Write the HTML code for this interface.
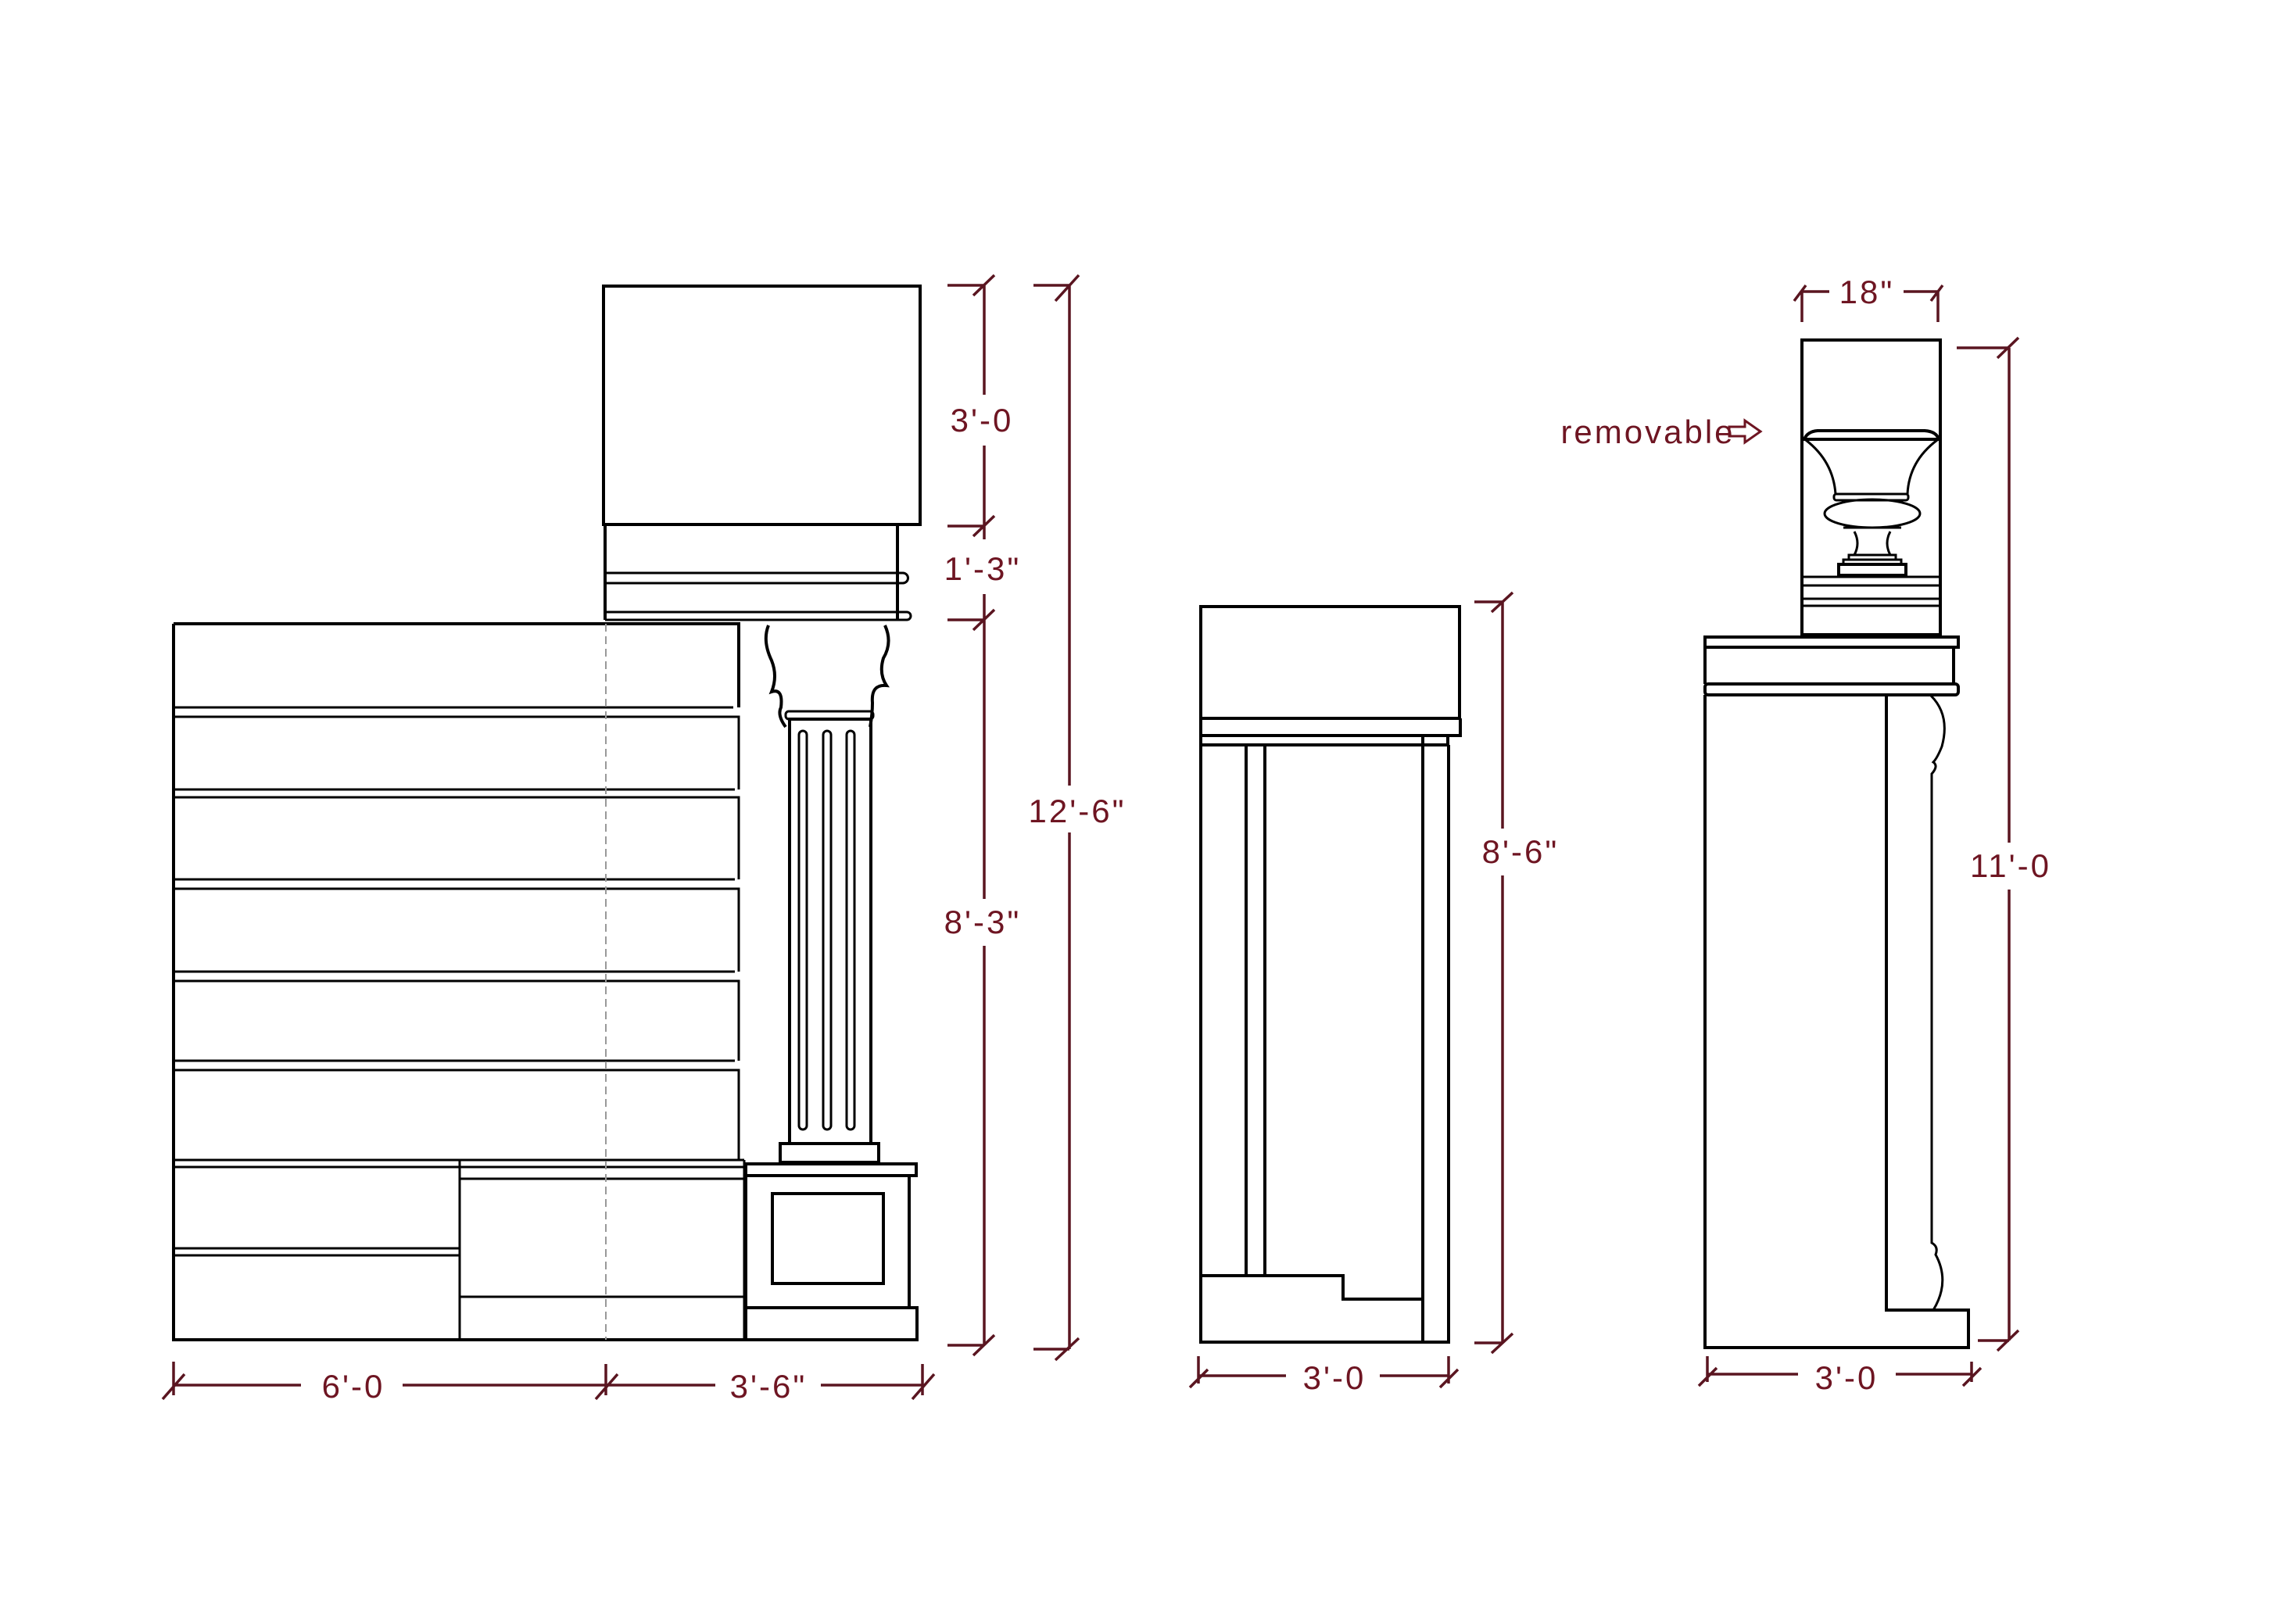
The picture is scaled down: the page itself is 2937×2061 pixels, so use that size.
<!DOCTYPE html>
<html><head><meta charset="utf-8"><style>
html,body{margin:0;padding:0;background:#fff;}
svg{display:block;}
.k{fill:none;stroke:#000;stroke-width:4;}
.t{fill:none;stroke:#000;stroke-width:3;}
.d{fill:none;stroke:#5a1520;stroke-width:3.5;}
.l{fill:#6e1522;font-family:"Liberation Sans",sans-serif;font-size:42px;letter-spacing:3px;}
</style></head><body>
<svg width="2937" height="2061" viewBox="0 0 2937 2061" xmlns="http://www.w3.org/2000/svg">
<rect width="2937" height="2061" fill="#fff"/>

<rect class="k" x="772" y="366" width="405" height="305"/>
<path class="k" d="M774 671 V793 M1148 671 V793"/>
<path class="t" d="M774 733 H1155 a6 6 0 0 1 0 13 H774 M774 783 H1160 a5 5 0 0 1 0 10 H774"/>
<path class="k" d="M222 798 H945 V905 M222 798 V1714 H1175"/>
<path class="t" d="M222 905 H938 M222 917 H945 V1010 M222 1010 H940 M222 1020 H945 V1125 M222 1125 H940 M222 1137 H945 V1243 M222 1243 H940 M222 1255 H945 V1357 M222 1357 H940 M222 1369 H945 V1484"/>
<path class="t" d="M222 1484 H952 M222 1493 H588 M588 1493 H952 M588 1508 H952 M588 1484 V1714 M588 1659 H952 M952 1484 V1714 M222 1597 H588 M222 1606 H588"/>
<path d="M775 798 V1714" stroke="#999" stroke-width="2" stroke-dasharray="10 6" fill="none"/>
<path class="k" d="M983 800 q-8 20 4 45 q8 20 0 40 q15 -5 12 20 q-5 10 6 25 M1132 800 q10 22 -2 42 q-6 20 4 35 q-20 -2 -18 22 q0 15 -3 31"/>
<rect class="t" x="1005" y="910" width="112" height="10" rx="4"/>
<rect class="k" x="1010" y="920" width="104" height="543"/>
<rect class="t" x="1022" y="935" width="10" height="510" rx="5"/>
<rect class="t" x="1053" y="935" width="10" height="510" rx="5"/>
<rect class="t" x="1083" y="935" width="10" height="510" rx="5"/>
<rect class="k" x="998" y="1463" width="126" height="24"/>
<rect class="k" x="954" y="1489" width="218" height="15"/>
<rect class="k" x="954" y="1504" width="209" height="169"/>
<rect class="k" x="988" y="1527" width="142" height="115"/>
<rect class="k" x="954" y="1673" width="219" height="41"/>
<path class="d" d="M1259 365 V1721 M1212 365 H1259 M1245 378 L1272 352 M1212 673 H1259 M1245 686 L1272 660 M1212 793 H1259 M1245 806 L1272 780 M1212 1721 H1259 M1245 1734 L1272 1708"/>
<path d="M1225 690 H1295 V760 H1225 Z M1225 1150 H1295 V1210 H1225 Z M1225 505 H1295 V570 H1225 Z" fill="#fff"/>
<path class="d" d="M1368 365 V1726 M1322 365 H1368 M1350 385 L1380 352 M1322 1726 H1368 M1350 1740 L1380 1712"/>
<rect x="1315" y="1005" width="110" height="60" fill="#fff"/>
<text class="l" x="1256" y="552" text-anchor="middle">3'-0</text>
<text class="l" x="1257" y="742" text-anchor="middle" font-size="38">1'-3"</text>
<text class="l" x="1257" y="1194" text-anchor="middle">8'-3"</text>
<text class="l" x="1378" y="1052" text-anchor="middle">12'-6"</text>
<path class="d" d="M222 1772 H385 M515 1772 H775 M775 1772 H915 M1050 1772 H1180 M222 1742 V1785 M208 1790 L236 1758 M775 1745 V1785 M762 1790 L790 1758 M1180 1745 V1785 M1167 1790 L1195 1758"/>
<text class="l" x="452" y="1788" text-anchor="middle">6'-0</text>
<text class="l" x="983" y="1788" text-anchor="middle">3'-6"</text>

<rect class="k" x="1536" y="776" width="331" height="143"/>
<path class="k" d="M1536 919 V941 H1868 V919 M1536 941 V953 H1852 V941 M1536 953 V1717 H1853 V953"/>
<path class="k" d="M1594 955 V1632 M1618 955 V1632 M1820 941 V1717"/>
<path class="k" d="M1536 1632 H1718 V1662 H1820"/>
<path class="d" d="M1922 770 V1718 M1886 770 H1922 M1908 783 L1935 758 M1886 1718 H1922 M1908 1731 L1935 1706"/>
<rect x="1890" y="1060" width="110" height="60" fill="#fff"/>
<text class="l" x="1945" y="1104" text-anchor="middle">8'-6"</text>
<path class="d" d="M1533 1760 H1645 M1765 1760 H1853 M1533 1735 V1770 M1522 1775 L1545 1752 M1853 1735 V1770 M1842 1775 L1865 1752"/>
<text class="l" x="1707" y="1777" text-anchor="middle">3'-0</text>

<rect class="k" x="2305" y="435" width="177" height="377"/>
<path class="t" d="M2305 738 H2482 M2305 749 H2482 M2305 766 H2482 M2305 775 H2482"/>
<path class="k" d="M2308 562 Q2312 552 2325 551 H2462 Q2477 552 2480 562 Z"/>
<path class="t" d="M2310 563 Q2345 590 2348 632 M2478 563 Q2442 590 2440 632"/>
<rect class="t" x="2346" y="632" width="95" height="8" rx="3"/>
<ellipse class="t" cx="2395" cy="657" rx="61" ry="18"/>
<path class="t" d="M2358 675 H2432 M2372 680 Q2380 695 2372 710 M2418 680 Q2410 695 2418 710"/>
<rect class="t" x="2365" y="710" width="60" height="6"/>
<rect class="t" x="2358" y="716" width="74" height="6"/>
<rect class="k" x="2352" y="722" width="86" height="14"/>
<path class="d" d="M2305 412 V373 H2340 M2435 373 H2479 V412 M2295 385 L2310 365 M2470 385 L2485 365"/>
<text class="l" x="2388" y="388" text-anchor="middle">18"</text>
<text class="l" x="2108" y="567" text-anchor="middle">removable</text>
<path d="M2212 546 H2232 V538 L2252 552 L2232 566 V558 H2212 Z" fill="none" stroke="#6e1522" stroke-width="3"/>
<rect class="k" x="2181" y="815" width="324" height="13"/>
<path class="k" d="M2181 828 V875 M2499 828 V875"/>
<rect class="k" x="2181" y="875" width="324" height="14" rx="4"/>
<path class="k" d="M2181 889 V1724 H2518 V1676 H2413 V889"/>
<path class="t" d="M2470 890 Q2495 915 2484 955 Q2478 970 2473 975 Q2480 980 2471 990 V1590 Q2480 1595 2476 1605 Q2495 1640 2473 1676"/>
<path class="d" d="M2570 445 V1715 M2503 445 H2570 M2555 458 L2582 432 M2530 1715 H2570 M2555 1728 L2582 1702"/>
<rect x="2510" y="1078" width="120" height="60" fill="#fff"/>
<text class="l" x="2572" y="1122" text-anchor="middle">11'-0</text>
<path class="d" d="M2184 1758 H2300 M2425 1758 H2522 M2184 1735 V1768 M2173 1773 L2196 1750 M2522 1742 V1768 M2511 1773 L2534 1750"/>
<text class="l" x="2362" y="1777" text-anchor="middle">3'-0</text>
</svg>
</body></html>
